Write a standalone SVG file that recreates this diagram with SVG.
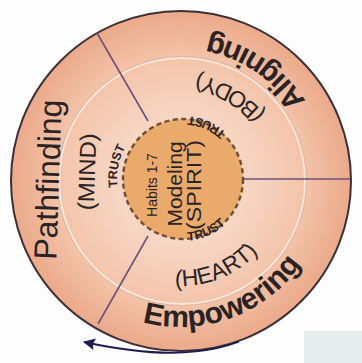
<svg xmlns="http://www.w3.org/2000/svg" width="362" height="363" viewBox="0 0 362 363">
  <style>
    .lbl { font-family: "Liberation Sans", Arial, sans-serif; fill: #2b2323; }
    .big { font-size: 30px; font-weight: bold; }
    .side { font-size: 32px; }
    .sub { font-size: 23px; }
    .trust { font-size: 12.5px; font-weight: bold; }
    .hub { font-size: 21px; }
    .divider { stroke: #6b5276; stroke-width: 1.6; fill: none; }
  </style>
  <defs>
    <radialGradient id="ringFill" cx="181" cy="181" r="170" gradientUnits="userSpaceOnUse">
      <stop offset="0" stop-color="#f8dfcf"/>
      <stop offset="0.45" stop-color="#f6d3c0"/>
      <stop offset="0.72" stop-color="#f3c4aa"/>
      <stop offset="1" stop-color="#eba98a"/>
    </radialGradient>
    <marker id="arrowHead" markerUnits="userSpaceOnUse" viewBox="0 0 12 12" refX="11" refY="6" markerWidth="12" markerHeight="12" orient="auto">
      <path d="M0,0 L12,6 L0,12 L2,6 z" fill="#1d1d52"/>
    </marker>
    <!-- baselines for the curved labels -->
    <path id="pAlign" d="M323.3,140.2 A148,148 0 0 0 165.5,33.8"/>
    <path id="pEmpower" d="M126.3,316.4 A146,146 0 0 0 309.9,249.5"/>
    <path id="pBody" d="M284.4,153.3 A107,107 0 0 0 153.3,77.6"/>
    <path id="pHeart" d="M145.1,279.7 A105,105 0 0 0 275.4,227"/>
    <path id="pTrustTop" d="M239.6,151.4 A63,63 0 0 0 165.6,118.4"/>
    <path id="pTrustBottom" d="M165.9,238.6 A62,62 0 0 0 238.7,206.2"/>
    <path id="pTrustLeft" d="M125.3,211 A66,66 0 0 1 141.5,127.7"/>
  </defs>

  <rect width="362" height="363" fill="#fdfdfd"/>
  <rect x="304" y="331" width="58" height="32" fill="#e7eded"/>

  <!-- outer disk and middle ring -->
  <g id="disk">
    <circle cx="181" cy="181" r="170" fill="url(#ringFill)" stroke="#3a3038" stroke-width="2"/>
    <circle cx="182" cy="181" r="123" fill="none" stroke="#f9e7dc" stroke-width="2"/>
    <circle cx="182" cy="181" r="124.5" fill="none" stroke="#d9b09c" stroke-width="0.8"/>
  </g>

  <!-- sector dividers and the cycle arrow -->
  <g id="connectors">
    <line class="divider" x1="148" y1="121" x2="97" y2="33"/>
    <line class="divider" x1="148" y1="236" x2="98" y2="324"/>
    <line class="divider" x1="243" y1="179" x2="350" y2="179"/>
    <path d="M239,341.7 A170,170 0 0 1 196,351.4 C170,354.5 135,353 84,342" fill="none" stroke="#1d1d52" stroke-width="1.8" marker-end="url(#arrowHead)"/>
  </g>

  <g id="pathfinding">
    <text class="lbl side" text-anchor="middle" transform="translate(59,180) rotate(-88)">Pathfinding</text>
    <text class="lbl sub" text-anchor="middle" textLength="77" lengthAdjust="spacingAndGlyphs" transform="translate(95,172) rotate(-88)">(MIND)</text>
  </g>

  <g id="aligning">
    <text class="lbl big"><textPath href="#pAlign" startOffset="50%" text-anchor="middle">Aligning</textPath></text>
    <text class="lbl sub"><textPath href="#pBody" startOffset="50%" text-anchor="middle">(BODY)</textPath></text>
  </g>

  <g id="empowering">
    <text class="lbl big"><textPath href="#pEmpower" startOffset="50%" text-anchor="middle">Empowering</textPath></text>
    <text class="lbl sub"><textPath href="#pHeart" startOffset="50%" text-anchor="middle">(HEART)</textPath></text>
  </g>

  <g id="modeling">
    <circle cx="183" cy="179" r="60" fill="#e9aa6c" stroke="#6e4e36" stroke-width="2.4" stroke-dasharray="5 3.5"/>
    <text class="lbl" font-size="14" text-anchor="middle" transform="translate(157,185) rotate(-90)">Habits 1-7</text>
    <text class="lbl hub" text-anchor="middle" transform="translate(182,184) rotate(-90)">Modeling</text>
    <text class="lbl hub" text-anchor="middle" textLength="90" lengthAdjust="spacingAndGlyphs" transform="translate(201,185) rotate(-90)">(SPIRIT)</text>
    <text class="lbl trust"><textPath href="#pTrustTop" startOffset="50%" text-anchor="middle">TRUST</textPath></text>
    <text class="lbl trust"><textPath href="#pTrustBottom" startOffset="50%" text-anchor="middle">TRUST</textPath></text>
    <text class="lbl trust"><textPath href="#pTrustLeft" startOffset="50%" text-anchor="middle">TRUST</textPath></text>
  </g>
</svg>
